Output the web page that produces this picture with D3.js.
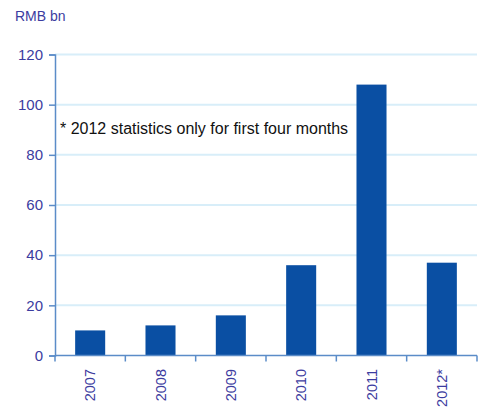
<!DOCTYPE html>
<html><head><meta charset="utf-8">
<script src="https://cdn.jsdelivr.net/npm/d3@7"></script>
<style>body{margin:0;background:#fff}text{font-family:"Liberation Sans",Arial,sans-serif}</style>
</head><body><svg id="c" width="484" height="407"></svg>
<script>
const categories = ["2007","2008","2009","2010","2011","2012*"];
const values = [10, 12, 16, 36, 108, 37];
const yTicks = [0,20,40,60,80,100,120];
const unitLabel = "RMB bn";
const note = "* 2012 statistics only for first four months";

const svg = d3.select("#c");
const m = {left:55, right:7, top:54.5, bottom:51.5};
const W = 484, H = 407;
const x = d3.scaleBand().domain(categories).range([m.left, W - m.right]).paddingInner(0.573).paddingOuter(0.2865);
const y = d3.scaleLinear().domain([0,120]).range([H - m.bottom, m.top]);
const tickCol = "#3c3ca0", axisCol = "#5b8cc8";
const ff = '"Liberation Sans",Arial,sans-serif';

// gridlines
svg.append("g").selectAll("line").data(yTicks.filter(d=>d>0)).join("line")
  .attr("x1", m.left).attr("x2", W - m.right)
  .attr("y1", d=>y(d)).attr("y2", d=>y(d))
  .attr("stroke", "#d8eef9").attr("stroke-width", 2);

// bars
svg.append("g").selectAll("rect").data(values).join("rect")
  .attr("x", (d,i)=>x(categories[i])).attr("width", x.bandwidth())
  .attr("y", d=>y(d)).attr("height", d=>y(0)-y(d))
  .attr("fill", "#0a4fa3");

// y axis
const ya = svg.append("g").attr("transform", `translate(${m.left},0)`)
  .call(d3.axisLeft(y).tickValues(yTicks).tickSize(6).tickPadding(6));
ya.select(".domain").attr("stroke", axisCol).attr("stroke-width", 1.5);
ya.selectAll(".tick line").attr("stroke", axisCol).attr("stroke-width", 1.5);
ya.selectAll(".tick text").attr("fill", tickCol).style("font-size", "15px").style("font-family", ff);

// x axis
const xa = svg.append("g").attr("transform", `translate(0,${y(0)})`);
xa.append("line").attr("x1", m.left).attr("x2", W - m.right).attr("stroke", axisCol).attr("stroke-width", 1.5);
const step = (W - m.right - m.left) / categories.length;
xa.selectAll("line.tk").data(d3.range(categories.length + 1)).join("line").attr("class","tk")
  .attr("x1", i => m.left + i*step).attr("x2", i => m.left + i*step)
  .attr("y1", 0).attr("y2", 6).attr("stroke", axisCol).attr("stroke-width", 1.5);
xa.selectAll("text").data(categories).join("text")
  .attr("transform", d => `translate(${x(d) + x.bandwidth()/2 + 5.2},13.5) rotate(-90)`)
  .attr("text-anchor", "end").attr("fill", tickCol).style("font-size", "14.5px").text(d=>d);

// unit label
svg.append("text").attr("x", 15).attr("y", 21).attr("fill", tickCol).style("font-size", "14px").text(unitLabel);
// note
svg.append("text").attr("x", 60).attr("y", 134).attr("fill", "#111").style("font-size", "16px").text(note);
</script></body></html>
